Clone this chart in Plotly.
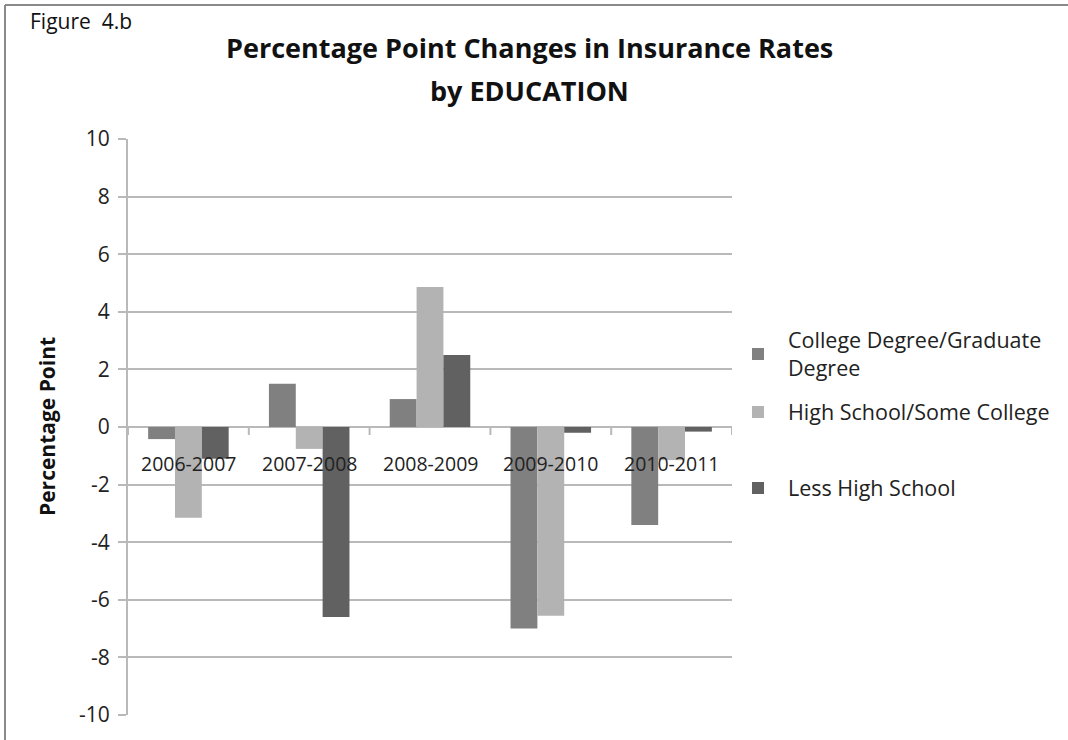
import plotly.graph_objects as go

categories = ["2006-2007", "2007-2008", "2008-2009", "2009-2010", "2010-2011"]
college = [-0.42, 1.5, 0.97, -7.0, -3.4]
high_school = [-3.15, -0.76, 4.86, -6.55, -1.15]
less_hs = [-1.1, -6.6, 2.5, -0.2, -0.16]
series_names = ["College Degree/Graduate<br>Degree", "High School/Some College", "Less High School"]
colors = ["#808080", "#b3b3b3", "#616161"]
y_ticks = [-10, -8, -6, -4, -2, 0, 2, 4, 6, 8, 10]
y_tick_labels = ["-10", "-8", "-6", "-4", "-2", "0", "2", "4", "6", "8", "10"]

FONT = "Open Sans, sans-serif"

# plot-area pixel geometry
L, R, T, B = 128, 732, 139, 715
W, H = 1068, 740
def px(x):
    return (x - L) / (R - L)
def py(y):
    return (B - y) / (B - T)

fig = go.Figure()
legends = ["legend", "legend2", "legend3"]
for vals, name, col, lg in zip([college, high_school, less_hs], series_names, colors, legends):
    fig.add_trace(go.Bar(x=categories, y=vals, name=name, marker=dict(color=col, line=dict(width=0)),
                         legend=lg, showlegend=True))

legend_y = [340, 412, 488]
common_leg = dict(font=dict(family=FONT, size=21.5, color="#222"), bgcolor="rgba(0,0,0,0)",
                  xanchor="left", yanchor="middle", itemwidth=50, traceorder="normal", visible=True)
fig.update_layout(
    showlegend=True,
    legend=dict(x=px(728), y=py(legend_y[0] + 14), **common_leg),
    legend2=dict(x=px(728), y=py(legend_y[1]), **common_leg),
    legend3=dict(x=px(728), y=py(legend_y[2]), **common_leg),
)

fig.update_layout(
    width=W, height=H,
    margin=dict(l=L, r=W - R, t=T, b=H - B, pad=0),
    paper_bgcolor="white", plot_bgcolor="white",
    barmode="group", bargap=1/3, bargroupgap=0,
    font=dict(family=FONT, color="#222"),
    xaxis=dict(showticklabels=False, showgrid=False, zeroline=False, showline=False, ticks="",
               range=[-0.5, len(categories) - 0.5]),
    yaxis=dict(range=[-10, 10], tickvals=y_ticks, ticktext=y_tick_labels,
               showgrid=True, gridcolor="#b9b9b9", gridwidth=2,
               zeroline=True, zerolinecolor="#b9b9b9", zerolinewidth=2,
               showline=True, linecolor="#b9b9b9", linewidth=2,
               ticks="outside", ticklen=8, tickcolor="#b9b9b9", tickwidth=2,
               tickfont=dict(family=FONT, size=21, color="#222"), ticklabelstandoff=4),
)

# category tick marks crossing the zero line
for i in range(len(categories) + 1):
    fig.add_shape(type="line", xref="x", yref="y", x0=i - 0.5, x1=i - 0.5,
                  ysizemode="pixel", yanchor=0, y0=0, y1=-8,
                  line=dict(color="#b9b9b9", width=2))

# category labels next to zero line
for c in categories:
    fig.add_annotation(x=c, y=0, xref="x", yref="y", text=c, showarrow=False,
                       yanchor="middle", yshift=-36, font=dict(family=FONT, size=19.5, color="#222"))

# titles
fig.add_annotation(x=px(529), y=py(48), xref="paper", yref="paper", showarrow=False,
                   text="<b>Percentage Point Changes in Insurance Rates</b>", xanchor="center", yanchor="middle",
                   font=dict(family=FONT, size=27, color="#111"))
fig.add_annotation(x=px(529), y=py(90), xref="paper", yref="paper", showarrow=False,
                   text="<b>by EDUCATION</b>", xanchor="center", yanchor="middle",
                   font=dict(family=FONT, size=27, color="#111"))
fig.add_annotation(x=px(28), y=py(21), xref="paper", yref="paper", showarrow=False,
                   text="Figure\u00a0\u00a04.b", xanchor="left", yanchor="middle",
                   font=dict(family=FONT, size=21, color="#111"))
fig.add_annotation(x=px(47), y=py(427), xref="paper", yref="paper", showarrow=False,
                   text="<b>Percentage Point</b>", textangle=-90, xanchor="center", yanchor="middle",
                   font=dict(family=FONT, size=21, color="#111"))

# outer chart border (top and left edges visible)
fig.add_shape(type="line", xref="paper", yref="paper", x0=px(5), x1=px(1068), y0=py(5), y1=py(5),
              line=dict(color="#8a8a8a", width=2), layer="below")
fig.add_shape(type="line", xref="paper", yref="paper", x0=px(5), x1=px(5), y0=py(5), y1=py(740),
              line=dict(color="#8a8a8a", width=2), layer="below")

fig.write_html("out.html")
